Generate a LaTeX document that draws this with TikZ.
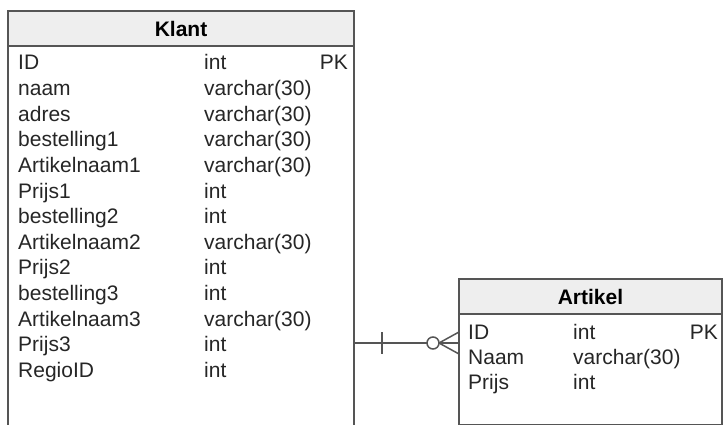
\documentclass[tikz,border=0pt]{standalone}
\usepackage{fontspec}
\setmainfont{Liberation Sans}
\usetikzlibrary{positioning}
\definecolor{framegray}{HTML}{555555}
\definecolor{headfill}{HTML}{EEEEEE}

\begin{document}
\begin{tikzpicture}[
    x=1pt, y=-1pt,
    tablehead/.style={rectangle, draw=framegray, fill=headfill, line width=1.6pt, anchor=north west, inner sep=0pt, outer sep=0pt, font=\fontsize{21}{25}\selectfont\bfseries},
    tablebody/.style={rectangle, draw=framegray, fill=white, line width=1.6pt, anchor=north west, inner sep=0pt, outer sep=0pt},
    field/.style={anchor=base west, inner sep=0pt, text=black!85, font=\fontsize{21}{25}\selectfont},
    key/.style={anchor=base east, inner sep=0pt, text=black!85, font=\fontsize{21}{25}\selectfont},
    rel/.style={draw=framegray, line width=1.5pt}
]
\clip (0,0) rectangle (723,425);

% Klant table
\node[tablebody, minimum width=346, minimum height=430] (klant) at (8,46) {};
\node[tablehead, minimum width=346, minimum height=35] (klanthead) at (8,11) {Klant};
\foreach \name/\type [count=\i from 0] in {ID/int, naam/varchar(30), adres/varchar(30),
    bestelling1/varchar(30), Artikelnaam1/varchar(30), Prijs1/int, bestelling2/int,
    Artikelnaam2/varchar(30), Prijs2/int, bestelling3/int, Artikelnaam3/varchar(30),
    Prijs3/int, RegioID/int}
{
    \node[field] (kname\i) at (18,{70+25.6*\i}) {\name};
    \node[field] (ktype\i) at (204,{70+25.6*\i}) {\type};
}
\node[key] (kpk) at (348,70) {PK};

% Artikel table
\node[tablebody, minimum width=263, minimum height=111] (artikel) at (459,314) {};
\node[tablehead, minimum width=263, minimum height=35] (artikelhead) at (459,279) {Artikel};
\foreach \name/\type [count=\i from 0] in {ID/int, Naam/varchar(30), Prijs/int}
{
    \node[field] (aname\i) at (468,{339+25*\i}) {\name};
    \node[field] (atype\i) at (573,{339+25*\i}) {\type};
}
\node[key] (apk) at (718,339) {PK};

% Relation Klant -- Artikel
\coordinate (fk) at (459,343);
\draw[rel] (klant.east |- fk) -- (fk);
\draw[rel] (klant.east |- fk) ++(28,-11) -- ++(0,22);
\draw[rel] (fk) ++(-20,0) -- ++(20,-11) (fk) ++(-20,0) -- ++(20,11);
\draw[rel, fill=white] (fk) ++(-26,0) circle (6pt);
\end{tikzpicture}
\end{document}
